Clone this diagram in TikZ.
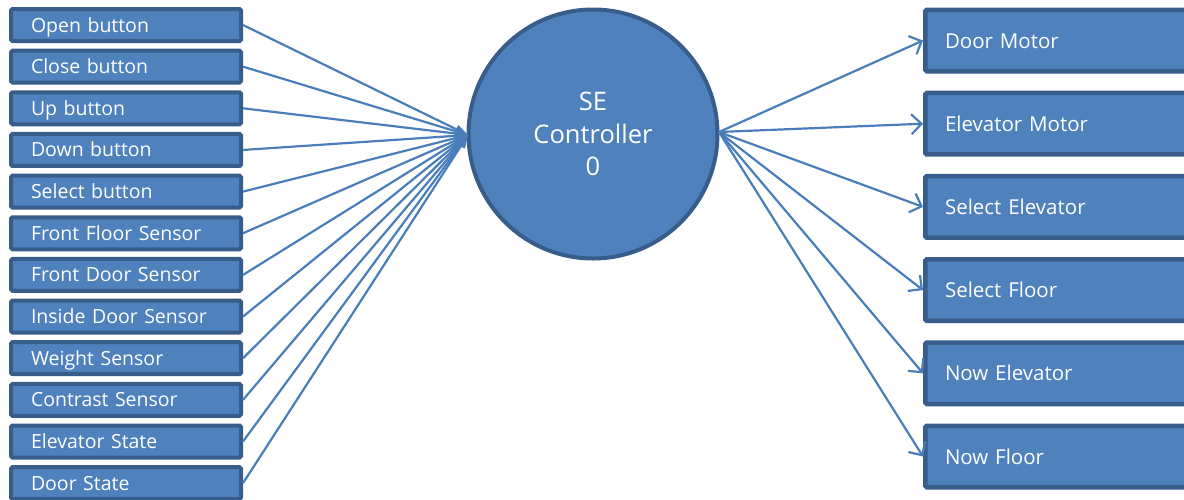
\documentclass[tikz,border=0pt]{standalone}
\usepackage{fontspec}
\setmainfont{Open Sans}
\usetikzlibrary{arrows.meta}
\definecolor{boxfill}{HTML}{4F81BD}
\definecolor{boxedge}{HTML}{385D8A}
\definecolor{wire}{HTML}{4A7EBB}
\begin{document}
\begin{tikzpicture}[x=1pt,y=-1pt,
  inbox/.style={draw=boxedge, fill=boxfill, line width=4pt, rounded corners=1.5pt,
    minimum height=32pt, text=white, font=\fontsize{19.5}{19.5}\selectfont,
    align=left, text width=190pt, inner xsep=20pt, inner ysep=0pt,
    text height=16pt, text depth=2pt},
  outbox/.style={draw=boxedge, fill=boxfill, line width=4.5pt, rounded corners=1.5pt,
    minimum height=61.5pt, text=white, font=\fontsize{20.5}{20.5}\selectfont,
    align=left, text width=250pt, inner xsep=19.75pt, inner ysep=0pt,
    text height=17pt, text depth=2pt, anchor=west},
  hub/.style={circle, draw=boxedge, fill=boxfill, line width=4pt, minimum size=249pt,
    text=white, font=\fontsize{25.5}{32.5}\selectfont, align=center},
  feed/.style={draw=wire, line width=2.2pt, -{Triangle[length=13pt,width=9pt]}},
  emit/.style={draw=wire, line width=2.2pt, -{Straight Barb[length=10pt,width=20pt,line width=2.2pt]}}]
\useasboundingbox (0,0) rectangle (1184,499);
\clip (0,0) rectangle (1184,499);

% central controller
\node[hub] (c) at (593,134) {SE\\Controller\\0};

% input signals
\foreach \n/\t [count=\i from 0] in {
  i0/Open button, i1/Close button, i2/Up button, i3/Down button,
  i4/Select button, i5/Front Floor Sensor, i6/Front Door Sensor,
  i7/Inside Door Sensor, i8/Weight Sensor, i9/Contrast Sensor,
  i10/Elevator State, i11/Door State}
  \node[inbox] (\n) at (126,25+41.65*\i) {\t};

% output signals
\foreach \n/\t [count=\i from 0] in {
  o0/Door Motor, o1/Elevator Motor, o2/Select Elevator,
  o3/Select Floor, o4/Now Elevator, o5/Now Floor}
  \node[outbox] (\n) at (923,40.5+83.2*\i) {\t};

\coordinate (cin) at (468,135);
\coordinate (cout) at (719,132);

\foreach \n in {i0,i1,i2,i3,i4,i5,i6,i7,i8,i9,i10,i11}
  \draw[feed] (\n.east) -- (cin);

\foreach \n in {o0,o1,o2,o3,o4,o5}
  \draw[emit] (cout) -- (\n.west);
\end{tikzpicture}
\end{document}
